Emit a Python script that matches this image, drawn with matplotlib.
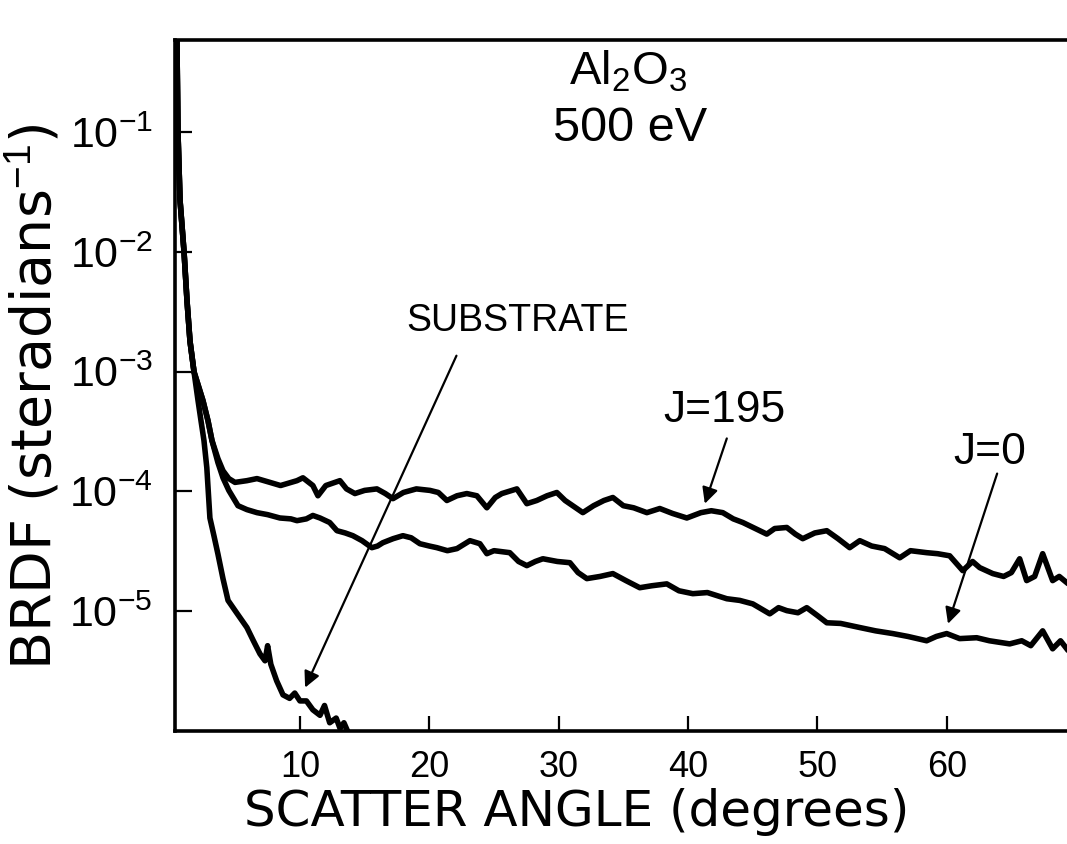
import matplotlib
matplotlib.use("Agg")
import matplotlib.pyplot as plt

plt.rcParams['font.family'] = ['Liberation Sans', 'DejaVu Sans']
plt.rcParams['mathtext.fontset'] = 'custom'
plt.rcParams['mathtext.rm'] = 'Liberation Sans'
plt.rcParams['mathtext.it'] = 'Liberation Sans'
plt.rcParams['mathtext.sf'] = 'Liberation Sans'

# Specular peak shared by all three scans (degrees, sr^-1)
peak_angle = [0.34, 0.49, 0.57, 0.73, 1.04, 1.27, 1.50, 1.81]
peak_brdf = [0.9, 0.59, 0.1, 0.027, 0.01, 3.9e-3, 1.8e-3, 1.0e-3]

# Coated sample, J=195
j195_angle = [2.50, 2.89, 3.20, 3.66, 4.05, 4.50, 4.98, 5.90, 6.68, 7.68, 8.50, 9.77,
              10.23, 11.0, 11.39, 12.0, 13.09, 13.6, 14.25, 15.0, 15.95, 16.6, 17.19,
              18.0, 19.0, 20.05, 20.7, 21.36, 22.14, 22.9, 23.68, 24.45, 25.1, 25.61,
              26.77, 27.54, 28.31, 29.1, 29.86, 30.5, 31.87, 32.7, 33.5, 34.19, 35.0,
              35.8, 36.82, 37.82, 38.8, 39.91, 41.0, 41.8, 42.69, 43.5, 44.24, 45.2,
              46.09, 46.7, 47.64, 48.3, 48.87, 49.8, 50.73, 51.6, 52.5, 53.28, 54.2,
              55.2, 56.37, 57.2, 58.45, 59.3, 60.23, 61.24, 62.0, 62.55, 63.56, 64.4,
              65.0, 65.64, 66.18, 66.8, 67.42, 68.19, 68.7, 69.4]
j195_brdf = [5.75e-4, 3.9e-4, 2.66e-4, 1.88e-4, 1.49e-4, 1.28e-4, 1.19e-4, 1.23e-4,
             1.28e-4, 1.19e-4, 1.12e-4, 1.23e-4, 1.30e-4, 1.12e-4, 9.2e-5, 1.12e-4,
             1.23e-4, 1.05e-4, 9.6e-5, 1.02e-4, 1.05e-4, 9.6e-5, 8.7e-5, 9.8e-5,
             1.05e-4, 1.02e-4, 9.8e-5, 8.4e-5, 9.2e-5, 9.6e-5, 9.2e-5, 7.3e-5, 8.9e-5,
             9.6e-5, 1.05e-4, 7.9e-5, 8.4e-5, 9.2e-5, 9.8e-5, 8.4e-5, 6.65e-5, 7.6e-5,
             8.4e-5, 8.9e-5, 7.6e-5, 7.3e-5, 6.65e-5, 7.2e-5, 6.55e-5, 6.0e-5, 6.65e-5,
             6.9e-5, 6.65e-5, 5.9e-5, 5.5e-5, 4.9e-5, 4.4e-5, 4.9e-5, 5.0e-5, 4.4e-5,
             4.03e-5, 4.5e-5, 4.7e-5, 4.03e-5, 3.39e-5, 3.88e-5, 3.5e-5, 3.33e-5,
             2.79e-5, 3.2e-5, 3.08e-5, 3.02e-5, 2.9e-5, 2.18e-5, 2.6e-5, 2.31e-5,
             2.06e-5, 1.95e-5, 2.1e-5, 2.74e-5, 1.8e-5, 1.95e-5, 3.02e-5, 1.8e-5,
             1.95e-5, 1.69e-5]

# Coated sample, J=0
j0_angle = [2.50, 2.89, 3.20, 3.66, 4.05, 4.50, 5.21, 5.90, 6.68, 7.50, 8.45, 9.30,
            9.77, 10.5, 11.0, 11.55, 12.3, 12.86, 13.5, 14.09, 14.8, 15.56, 16.0, 16.41,
            17.2, 17.96, 18.6, 19.27, 20.0, 20.59, 21.4, 22.14, 23.14, 23.91, 24.45,
            25.0, 26.22, 26.9, 27.54, 28.2, 28.78, 29.9, 30.87, 31.5, 32.18, 33.2,
            34.19, 35.2, 36.27, 37.2, 38.36, 39.3, 40.37, 41.5, 43.0, 44.0, 45.01,
            46.32, 47.0, 47.64, 48.5, 49.18, 50.0, 50.73, 51.8, 53.28, 54.5, 55.83,
            57.0, 58.45, 59.2, 60.0, 61.0, 62.32, 63.3, 64.87, 65.8, 66.5, 67.42,
            68.19, 68.8, 69.4]
j0_brdf = [5.75e-4, 3.9e-4, 2.66e-4, 1.74e-4, 1.30e-4, 1.02e-4, 7.6e-5, 7.05e-5,
           6.65e-5, 6.4e-5, 6.0e-5, 5.9e-5, 5.7e-5, 5.9e-5, 6.3e-5, 6.0e-5, 5.5e-5,
           4.7e-5, 4.5e-5, 4.27e-5, 3.88e-5, 3.39e-5, 3.5e-5, 3.73e-5, 4.03e-5,
           4.27e-5, 4.1e-5, 3.66e-5, 3.5e-5, 3.39e-5, 3.2e-5, 3.33e-5, 3.88e-5,
           3.66e-5, 3.02e-5, 3.2e-5, 3.08e-5, 2.6e-5, 2.4e-5, 2.6e-5, 2.74e-5, 2.6e-5,
           2.54e-5, 2.1e-5, 1.87e-5, 1.95e-5, 2.06e-5, 1.8e-5, 1.57e-5, 1.63e-5,
           1.69e-5, 1.48e-5, 1.4e-5, 1.43e-5, 1.27e-5, 1.23e-5, 1.15e-5, 9.5e-6,
           1.07e-5, 1.01e-5, 9.7e-6, 1.07e-5, 9.2e-6, 8.0e-6, 7.9e-6, 7.3e-6, 6.85e-6,
           6.5e-6, 6.15e-6, 5.66e-6, 6.15e-6, 6.5e-6, 5.9e-6, 6.0e-6, 5.66e-6, 5.33e-6,
           5.66e-6, 5.15e-6, 6.85e-6, 4.85e-6, 5.66e-6, 4.67e-6]

# Bare substrate
sub_angle = [2.12, 2.35, 2.58, 2.80, 3.04, 3.35, 3.66, 4.05, 4.44, 5.13, 5.90, 6.40,
             6.91, 7.30, 7.50, 7.75, 8.20, 8.69, 9.20, 9.60, 10.0, 10.5, 11.0, 11.55,
             11.9, 12.3, 12.8, 13.1, 13.4, 13.71, 14.0]
sub_brdf = [5.75e-4, 3.9e-4, 2.66e-4, 1.58e-4, 6.0e-5, 4.27e-5, 3.0e-5, 1.87e-5,
            1.23e-5, 9.6e-6, 7.3e-6, 5.66e-6, 4.4e-6, 3.85e-6, 5.15e-6, 3.6e-6,
            2.62e-6, 2.0e-6, 1.87e-6, 2.07e-6, 1.78e-6, 1.78e-6, 1.5e-6, 1.35e-6,
            1.63e-6, 1.17e-6, 1.28e-6, 1.05e-6, 1.17e-6, 9.8e-7, 8.0e-7]

x_ticks = [10, 20, 30, 40, 50, 60]
y_ticks = [1e-1, 1e-2, 1e-3, 1e-4, 1e-5]
y_tick_labels = [r'$\mathregular{10^{-1}}$', r'$\mathregular{10^{-2}}$',
                 r'$\mathregular{10^{-3}}$', r'$\mathregular{10^{-4}}$',
                 r'$\mathregular{10^{-5}}$']

fig = plt.figure(figsize=(10.67, 8.44), dpi=100)
ax = fig.add_axes([0.164, 0.134, 0.836, 0.8187])

line_kw = dict(color='black', lw=4.0, solid_joinstyle='round', solid_capstyle='round')
for ang, val in [(j195_angle, j195_brdf), (j0_angle, j0_brdf), (sub_angle, sub_brdf)]:
    ax.plot(peak_angle + ang, peak_brdf + val, **line_kw)

ax.set_yscale('log')
ax.set_xlim(0.34, 69.3)
ax.set_ylim(1e-6, 0.59)

ax.set_xticks(x_ticks)
ax.set_xticklabels([str(t) for t in x_ticks])
ax.set_yticks(y_ticks)
ax.set_yticklabels(y_tick_labels)
ax.minorticks_off()
ax.tick_params(axis='x', direction='in', length=11, width=1.6, pad=14, labelsize=26)
ax.tick_params(axis='y', direction='in', length=12, width=1.6, pad=16, labelsize=31)

for side in ['left', 'bottom', 'top']:
    ax.spines[side].set_linewidth(2.6)
ax.spines['right'].set_visible(False)

label_font = ['DejaVu Sans']
ax.set_xlabel('SCATTER ANGLE (degrees)', fontsize=36, family=label_font)
ax.set_ylabel(r'BRDF (steradians$^{-1}$)', fontsize=40, family=label_font)
ax.yaxis.label.set_va('center')
ax.xaxis.label.set_va('center')
ax.xaxis.set_label_coords(0.45, -0.117)
ax.yaxis.set_label_coords(-0.158, 0.483)

ax.text(35.4, 0.318, r'Al$\mathregular{_2}$O$\mathregular{_3}$', fontsize=34,
        ha='center', va='center')
ax.text(35.5, 0.108, '500 eV', fontsize=35, ha='center', va='center')

arrow_kw = dict(arrowstyle='-|>', color='black', lw=1.6, mutation_scale=24,
                shrinkA=0, shrinkB=0)
ax.text(26.8, 2.63e-3, 'SUBSTRATE', fontsize=27, ha='center', va='center')
ax.annotate('', xy=(10.4, 2.3e-6), xytext=(22.1, 1.36e-3), arrowprops=arrow_kw)

ax.text(42.8, 4.74e-4, 'J=195', fontsize=32, ha='center', va='center')
ax.annotate('', xy=(41.3, 7.9e-5), xytext=(43.0, 2.77e-4), arrowprops=arrow_kw)

ax.text(63.3, 2.1e-4, 'J=0', fontsize=32, ha='center', va='center')
ax.annotate('', xy=(60.1, 7.85e-6), xytext=(63.9, 1.41e-4), arrowprops=arrow_kw)

fig.savefig('out.png', dpi=100)
